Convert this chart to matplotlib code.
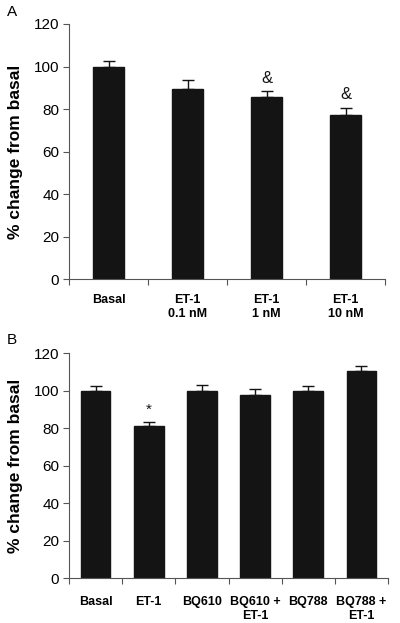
import matplotlib
matplotlib.use("Agg")
import matplotlib.pyplot as plt
import numpy as np

plt.rcParams['font.family'] = ['Liberation Sans', 'DejaVu Sans']

cats_a = ["Basal", "ET-1\n0.1 nM", "ET-1\n1 nM", "ET-1\n10 nM"]
vals_a = [99.8, 89.3, 85.5, 77.2]
errs_a = [2.9, 4.3, 3.0, 3.4]
marks_a = ["", "", "&", "&"]

cats_b = ["Basal", "ET-1", "BQ610", "BQ610 +\nET-1", "BQ788", "BQ788 +\nET-1"]
vals_b = [100.0, 81.4, 100.0, 97.9, 100.0, 110.4]
errs_b = [2.4, 2.1, 3.0, 3.0, 2.5, 3.0]
marks_b = ["", "*", "", "", "", ""]

yticks = [0, 20, 40, 60, 80, 100, 120]

fig = plt.figure(figsize=(4.0, 6.23), dpi=100)
axA = fig.add_axes([0.1725, 0.552, 0.79, 0.4095])
axB = fig.add_axes([0.1725, 0.0717, 0.7975, 0.3613])

def draw(ax, cats, vals, errs, marks, width, mark_sizes, pad):
    n = len(cats)
    x = np.arange(n) + 0.5
    ax.bar(x, vals, width=width, color='#141414', edgecolor='#141414', zorder=2)
    ax.errorbar(x, vals, yerr=[np.zeros(n), errs], fmt='none', ecolor='#141414',
                elinewidth=1.0, capsize=4, capthick=1.0, zorder=3)
    for xi, v, e, m in zip(x, vals, errs, marks):
        if m:
            ax.text(xi, v + e + 2.5, m, ha='center', va='bottom',
                    fontsize=mark_sizes.get(m, 11), color='#141414')
    ax.set_xlim(0, n)
    ax.set_ylim(0, 120)
    ax.set_yticks(yticks)
    ax.set_yticklabels([str(t) for t in yticks], fontsize=11)
    ax.set_xticks(np.arange(n + 1))
    ax.set_xticklabels([])
    ax.set_xticks(x, minor=True)
    ax.set_xticklabels(cats, minor=True, fontsize=9, fontweight='bold', linespacing=1.15)
    ax.tick_params(axis='x', which='minor', length=0, pad=pad)
    ax.tick_params(axis='x', which='major', length=4, direction='out', width=0.8, color='#555555')
    ax.tick_params(axis='y', length=4, direction='out', width=0.8, color='#555555', pad=3)
    ax.spines['top'].set_visible(False)
    ax.spines['right'].set_visible(False)
    ax.spines['left'].set_color('#555555')
    ax.spines['bottom'].set_color('#555555')
    ax.set_ylabel("% change from basal", fontsize=12.5, fontweight='bold', labelpad=8)

draw(axA, cats_a, vals_a, errs_a, marks_a, 0.40, {"&": 12}, 11)
draw(axB, cats_b, vals_b, errs_b, marks_b, 0.56, {"*": 11}, 13)

fig.text(12/400, 1 - 12/623, "A", fontsize=11, ha='center', va='center')
fig.text(12/400, 1 - 340/623, "B", fontsize=11, ha='center', va='center')

fig.savefig("out.png", dpi=100)
